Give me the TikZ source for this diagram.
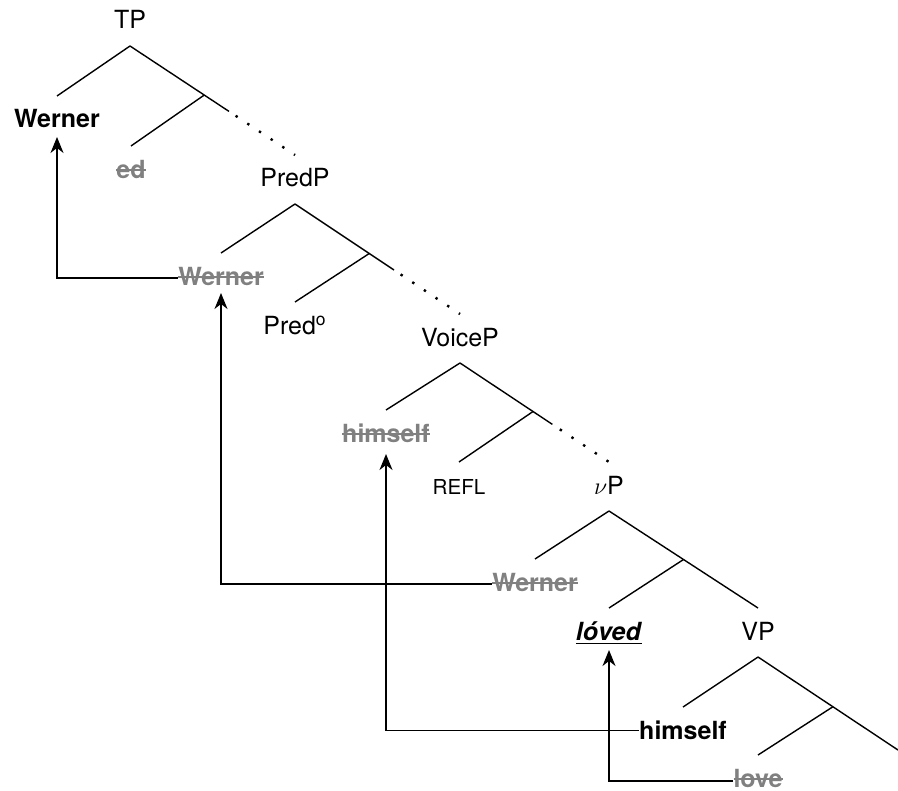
\documentclass[tikz,border=0pt]{standalone}
\usepackage{fontspec}
\setmainfont{TeX Gyre Heros}
\usetikzlibrary{calc,arrows.meta}

\newcommand{\gone}[1]{\setbox0\hbox{#1}\rlap{\rule[0.52ex]{\wd0}{0.9pt}}\box0}

\tikzset{
    lbl/.style={anchor=base, inner sep=0pt, font=\fontsize{12.5}{15}\selectfont},
    moved/.style={lbl, text=black!50, font=\fontsize{12.5}{15}\selectfont\bfseries},
    branch/.style={line width=0.7pt},
    dots/.style={line width=1.2pt, dash pattern=on 1.2pt off 5.8pt},
    move/.style={line width=0.7pt, -{Stealth[length=8pt,width=6.5pt,inset=2.5pt]}},
}

\begin{document}
\begin{tikzpicture}[x=0.5pt, y=-0.5pt]
            \useasboundingbox (0,0) rectangle (898,791);
            % labels, placed on their baselines
            \node [lbl] (tp) at (130,29) {TP};
            \node [lbl] (wern1) at (57,128) {\textbf{Werner}};
            \node [moved] (ed) at (131,178) {\gone{ed}};
            \node [lbl] (predp) at (295,187) {PredP};
            \node [moved] (wern2) at (221,285) {\gone{Werner}};
            \node [lbl] (pred) at (295,334) {Pred\textsuperscript{o}};
            \node [lbl] (voicep) at (460,346) {VoiceP};
            \node [moved] (him1) at (386,442) {\gone{himself}};
            \node [lbl, font=\fontsize{10.3}{12}\selectfont] (refl) at (459,494) {REFL};
            \node [lbl] (vp) at (609,494) {$\nu$P};
            \node [moved] (wern3) at (535,591) {\gone{Werner}};
            \node [lbl] (loved) at (609,640) {\underline{\textbf{\textit{lóved}}}};
            \node [lbl] (vpp) at (758,640) {VP};
            \node [lbl] (him2) at (683,739) {\textbf{himself}};
            \node [moved] (love) at (758,787) {\gone{love}};
            % TP
            \coordinate (tp-a) at ([yshift=-8.5pt]tp.base);
            \coordinate (tp-r) at ([yshift=16pt]predp.base);
            \coordinate (tp-j) at ($(tp-a)!.45!(tp-r)$);
            \draw [branch] (tp-a) -- ([yshift=16pt]wern1.base);
            \draw [branch] (tp-a) -- ($(tp-a)!.6!(tp-r)$);
            \draw [dots] ($(tp-a)!.64!(tp-r)$) -- (tp-r);
            \draw [branch] (tp-j) -- ([yshift=16pt]ed.base);
            % PredP
            \coordinate (predp-a) at ([yshift=-8.5pt]predp.base);
            \coordinate (predp-r) at ([yshift=16pt]voicep.base);
            \coordinate (predp-j) at ($(predp-a)!.45!(predp-r)$);
            \draw [branch] (predp-a) -- ([yshift=16pt]wern2.base);
            \draw [branch] (predp-a) -- ($(predp-a)!.6!(predp-r)$);
            \draw [dots] ($(predp-a)!.64!(predp-r)$) -- (predp-r);
            \draw [branch] (predp-j) -- ([yshift=16pt]pred.base);
            % VoiceP
            \coordinate (voicep-a) at ([yshift=-8.5pt]voicep.base);
            \coordinate (voicep-r) at ([yshift=16pt]vp.base);
            \coordinate (voicep-j) at ($(voicep-a)!.49!(voicep-r)$);
            \draw [branch] (voicep-a) -- ([yshift=16pt]him1.base);
            \draw [branch] (voicep-a) -- ($(voicep-a)!.62!(voicep-r)$);
            \draw [dots] ($(voicep-a)!.67!(voicep-r)$) -- (voicep-r);
            \draw [branch] (voicep-j) -- ([yshift=16pt]refl.base);
            % vP
            \coordinate (vp-a) at ([yshift=-8.5pt]vp.base);
            \coordinate (vp-j) at ($(vp-a)!.5!([yshift=16pt]vpp.base)$);
            \draw [branch] (vp-a) -- ([yshift=16pt]wern3.base);
            \draw [branch] (vp-a) -- ([yshift=16pt]vpp.base);
            \draw [branch] (vp-j) -- ([yshift=16pt]loved.base);
            % VP
            \coordinate (vpp-a) at ([yshift=-8.5pt]vpp.base);
            \coordinate (vpp-r) at (898,750);
            \coordinate (vpp-j) at ($(vpp-a)!.535!(vpp-r)$);
            \draw [branch] (vpp-a) -- ([yshift=16pt]him2.base);
            \draw [branch] (vpp-a) -- (vpp-r);
            \draw [branch] (vpp-j) -- ([yshift=16pt]love.base);
            % movement
            \draw [move] ([yshift=3.6pt]wern2.base west) -| ([yshift=-4.5pt]wern1.base);
            \draw [move] ([yshift=3.6pt]wern3.base west) -| ([yshift=-4pt]wern2.base);
            \draw [move] ([yshift=4.2pt]him2.base west) -| ([yshift=-6pt]him1.base);
            \draw [move] ([yshift=3pt]love.base west) -| ([yshift=-5pt]loved.base);
\end{tikzpicture}
\end{document}
